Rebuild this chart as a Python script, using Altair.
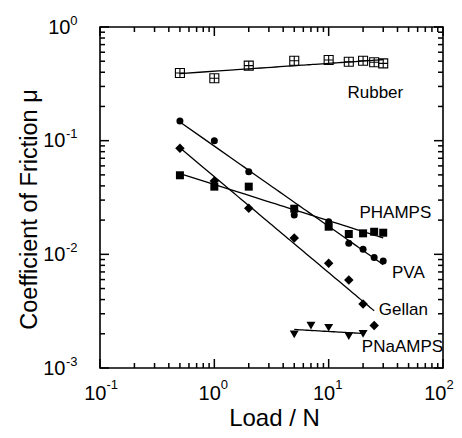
import altair as alt
import pandas as pd

# ---- data ----
load_rubber = [0.5, 1, 2, 5, 10, 15, 20, 25, 30]
mu_rubber = [0.394, 0.354, 0.457, 0.505, 0.513, 0.495, 0.505, 0.489, 0.479]

load_pva = [0.5, 1, 2, 5, 10, 15, 20, 25, 30]
mu_pva = [0.149, 0.100, 0.0534, 0.0222, 0.0193, 0.0125, 0.0111, 0.0094, 0.00875]

load_phamps = [0.5, 1, 2, 5, 10, 15, 20, 25, 30]
mu_phamps = [0.0496, 0.0394, 0.0394, 0.0252, 0.0175, 0.0151, 0.0153, 0.0158, 0.0155]

load_gellan = [0.5, 1, 2, 5, 10, 15, 20, 25]
mu_gellan = [0.0857, 0.0442, 0.0254, 0.0139, 0.00835, 0.00595, 0.00366, 0.00236]

load_pnaamps = [5, 7, 10, 15, 20]
mu_pnaamps = [0.00198, 0.00236, 0.00226, 0.00191, 0.0020]

label_text = ["Rubber", "PHAMPS", "PVA", "Gellan", "PNaAMPS"]
label_x = [25.6, 38.3, 49.8, 45.0, 44.2]
label_y = [0.263, 0.0233, 0.00686, 0.00324, 0.00154]

x_major = [0.1, 1, 10, 100]
x_exp = ["-1", "0", "1", "2"]
x_minor = [0.2, 0.3, 0.4, 0.5, 0.6, 0.7, 0.8, 0.9,
           2, 3, 4, 5, 6, 7, 8, 9,
           20, 30, 40, 50, 60, 70, 80, 90]
y_major = [0.001, 0.01, 0.1, 1]
y_exp = ["-3", "-2", "-1", "0"]
y_minor = [0.002, 0.003, 0.004, 0.005, 0.006, 0.007, 0.008, 0.009,
           0.02, 0.03, 0.04, 0.05, 0.06, 0.07, 0.08, 0.09,
           0.2, 0.3, 0.4, 0.5, 0.6, 0.7, 0.8, 0.9]

W, H = 343, 341
MAJ, MIN = 9, 5

# ---- tables ----
rows = []
for name, xs_, ys_ in [("Rubber", load_rubber, mu_rubber), ("PVA", load_pva, mu_pva),
                       ("PHAMPS", load_phamps, mu_phamps), ("Gellan", load_gellan, mu_gellan),
                       ("PNaAMPS", load_pnaamps, mu_pnaamps)]:
    for a, b in zip(xs_, ys_):
        rows.append({"series": name, "load": a, "mu": b})
df = pd.DataFrame(rows)
labels_df = pd.DataFrame({"text": label_text, "load": label_x, "mu": label_y})

FONT = "Liberation Sans, Arial, Helvetica, sans-serif"
xscale = alt.Scale(type="log", domain=[0.1, 100], nice=False)
yscale = alt.Scale(type="log", domain=[0.001, 1], nice=False)

x_exp_expr = "[" + ",".join("'%s'" % e for e in x_exp) + "][round(log(datum.value)/LN10)+1]"
y_exp_expr = "[" + ",".join("'%s'" % e for e in y_exp) + "][round(log(datum.value)/LN10)+3]"

common = dict(domain=False, grid=False, labelFlush=False, labelOverlap=False,
              ticks=False, tickSize=0, labelColor="black")
x_label_offset = {"condition": {"test": "datum.value > 50", "value": 3}, "value": 6}

bottom_base = alt.Axis(orient="bottom", values=x_major,
                       labelExpr="'10'", labelAlign="right", labelOffset=x_label_offset,
                       labelPadding=15, labelFontSize=20, title="Load / N", titleFontSize=24,
                       titleFontWeight="normal", titleX=174, titleY=57,
                       titleAlign="center", titleBaseline="alphabetic", titleColor="black",
                       **common)
bottom_exp = alt.Axis(orient="bottom", values=x_major,
                      labelExpr=x_exp_expr, labelAlign="left", labelOffset=x_label_offset,
                      labelPadding=10, labelFontSize=13, title=None, **common)
left_base = alt.Axis(orient="left", values=y_major,
                     labelExpr="'10'", labelAlign="right", labelBaseline="middle",
                     labelPadding={"condition": {"test": "datum.value > 0.5", "value": 30}, "value": 35},
                     labelFontSize=20, title="Coefficient of Friction \u03bc", titleFontSize=23.5,
                     titleFontWeight="normal", titleAngle=270, titleX=-71, titleY=182,
                     titleAlign="center", titleBaseline="middle", titleColor="black",
                     **common)
left_exp = alt.Axis(orient="left", values=y_major,
                    labelExpr=y_exp_expr, labelAlign="right", labelBaseline="middle",
                    labelOffset=-7, labelPadding=23, labelFontSize=13, title=None, **common)


def enc(xaxis, yaxis):
    return dict(x=alt.X("load:Q", scale=xscale, axis=xaxis),
                y=alt.Y("mu:Q", scale=yscale, axis=yaxis))


base = alt.Chart(df)

lines = base.transform_regression("load", "mu", method="pow", groupby=["series"]).mark_line(
    color="black", strokeWidth=1.3).encode(detail="series:N", **enc(bottom_base, left_base))

pva = base.transform_filter(alt.datum.series == "PVA").mark_point(
    shape="circle", filled=True, size=49, color="black", opacity=1).encode(**enc(bottom_exp, left_exp))

phamps = base.transform_filter(alt.datum.series == "PHAMPS").mark_point(
    shape="square", filled=True, size=64, color="black", opacity=1).encode(**enc(None, None))

gellan = base.transform_filter(alt.datum.series == "Gellan").mark_point(
    shape="diamond", filled=True, size=90, color="black", opacity=1).encode(**enc(None, None))

pnaamps = base.transform_filter(alt.datum.series == "PNaAMPS").mark_point(
    shape="triangle-down", filled=True, size=80, color="black", opacity=1).encode(**enc(None, None))

rubber = base.transform_filter(alt.datum.series == "Rubber").mark_point(
    shape="M-1,-1H1V1H-1Z M0,-1V1 M-1,0H1", filled=False, size=81, color="black",
    strokeWidth=1.1, opacity=1).encode(**enc(None, None))

texts = alt.Chart(labels_df).mark_text(fontSize=17, font=FONT, color="black",
                                       align="center", baseline="middle").encode(
    text="text:N", **enc(None, None))


# inward ticks on all four sides, positioned through the shared log scales
def xticks(vals, y0, y1):
    return alt.Chart(pd.DataFrame({"load": vals})).mark_rule(color="black", strokeWidth=1.5).encode(
        x=alt.X("load:Q", scale=xscale, axis=None), y=alt.value(y0), y2=alt.value(y1))


def yticks(vals, x0, x1):
    return alt.Chart(pd.DataFrame({"mu": vals})).mark_rule(color="black", strokeWidth=1.5).encode(
        y=alt.Y("mu:Q", scale=yscale, axis=None), x=alt.value(x0), x2=alt.value(x1))


tick_layers = [
    xticks(x_major, H, H - MAJ), xticks(x_minor, H, H - MIN),
    xticks(x_major, 0, MAJ), xticks(x_minor, 0, MIN),
    yticks(y_major, 0, MAJ), yticks(y_minor, 0, MIN),
    yticks(y_major, W, W - MAJ), yticks(y_minor, W, W - MIN),
]

chart = alt.layer(lines, pva, phamps, gellan, pnaamps, rubber, texts, *tick_layers).resolve_axis(
    x="independent", y="independent"
).properties(
    width=W, height=H,
    padding={"left": 92, "top": 19, "right": 11, "bottom": 62},
    autosize=alt.AutoSizeParams(type="none"),
    background="white",
).configure_view(
    stroke="black", strokeWidth=1.6
).configure_axis(
    labelFont=FONT, titleFont=FONT
)

chart.save("out.html", embed_options={"renderer": "svg", "actions": False})
